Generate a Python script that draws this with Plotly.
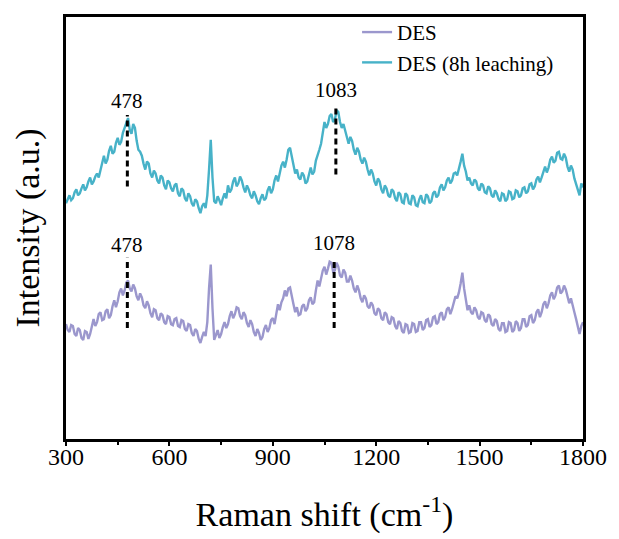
import plotly.graph_objects as go

# Raman shift sample positions (cm^-1)
raman_shift = list(range(300, 1801, 5))

# DES (8h leaching) - upper (offset) spectrum, a.u.
des_leach = [
    236, 241, 244, 239, 241, 247, 250, 244, 246, 251,
    255, 249, 252, 258, 262, 255, 258, 263, 266, 262,
    270, 277, 284, 276, 280, 289, 294, 286, 288, 297,
    302, 295, 298, 307, 312, 318, 322, 310, 306, 316,
    312, 299, 290, 288, 284, 276, 270, 278, 276, 266,
    262, 269, 266, 259, 256, 264, 262, 254, 250, 259,
    257, 251, 248, 254, 256, 246, 243, 251, 249, 241,
    238, 246, 243, 236, 233, 240, 238, 231, 226, 233,
    236, 231, 244, 270, 300, 262, 238, 236, 243, 239,
    234, 241, 246, 241, 254, 247, 250, 258, 262, 253,
    256, 263, 259, 252, 247, 254, 250, 244, 241, 248,
    244, 238, 235, 241, 245, 239, 241, 249, 253, 246,
    250, 259, 264, 258, 266, 274, 278, 272, 280, 290,
    292, 282, 274, 266, 270, 262, 260, 267, 264, 256,
    258, 266, 272, 265, 268, 279, 286, 290, 296, 308,
    318, 312, 316, 324, 326, 318, 320, 330, 328, 318,
    312, 316, 310, 302, 296, 303, 299, 290, 285, 292,
    288, 280, 276, 282, 278, 270, 264, 270, 266, 258,
    254, 261, 258, 250, 246, 254, 251, 244, 242, 250,
    248, 241, 238, 247, 245, 237, 236, 246, 244, 236,
    235, 244, 242, 234, 233, 240, 244, 237, 236, 245,
    243, 236, 238, 246, 248, 242, 244, 252, 255, 249,
    252, 259, 262, 256, 259, 266, 267, 264, 270, 278,
    286, 274, 268, 259, 262, 256, 254, 260, 258, 251,
    249, 256, 254, 247, 246, 253, 251, 244, 242, 249,
    246, 240, 238, 246, 245, 238, 240, 248, 247, 240,
    241, 249, 248, 242, 244, 251, 252, 246, 248, 255,
    256, 250, 253, 260, 263, 257, 262, 269, 273, 267,
    272, 280, 283, 277, 279, 287, 288, 281, 280, 286,
    282, 273, 268, 274, 270, 261, 256, 250, 244, 256,
    252,
]

# DES - lower spectrum, a.u.
des = [
    114, 108, 106, 113, 112, 104, 102, 110, 108, 100,
    98, 107, 106, 99, 104, 112, 119, 112, 116, 124,
    126, 118, 119, 127, 129, 120, 123, 132, 138, 131,
    137, 146, 150, 143, 148, 156, 158, 150, 147, 154,
    150, 142, 138, 145, 141, 133, 130, 137, 133, 125,
    121, 129, 128, 120, 118, 125, 123, 116, 114, 122,
    121, 114, 113, 119, 120, 112, 111, 118, 117, 109,
    107, 114, 113, 105, 102, 109, 107, 99, 95, 101,
    106, 102, 116, 150, 174, 130, 98, 103, 108, 100,
    104, 111, 116, 110, 114, 122, 127, 120, 124, 131,
    130, 122, 119, 126, 123, 115, 111, 118, 114, 106,
    102, 109, 105, 98, 101, 109, 113, 106, 110, 118,
    120, 114, 126, 134, 128, 136, 140, 148, 142, 150,
    151, 141, 134, 126, 131, 123, 124, 132, 134, 127,
    130, 138, 141, 134, 136, 148, 158, 152, 160, 168,
    172, 164, 170, 177, 176, 167, 168, 176, 172, 163,
    161, 169, 166, 157, 157, 163, 158, 150, 146, 153,
    148, 140, 136, 143, 140, 132, 130, 136, 133, 125,
    123, 130, 128, 120, 118, 126, 124, 116, 114, 121,
    120, 112, 109, 117, 115, 107, 105, 114, 113, 105,
    106, 115, 114, 106, 107, 116, 116, 108, 110, 118,
    119, 111, 113, 121, 122, 114, 116, 124, 126, 118,
    121, 129, 131, 124, 129, 137, 142, 140, 146, 155,
    166, 150, 138, 128, 133, 126, 124, 131, 128, 121,
    119, 126, 125, 118, 116, 124, 122, 114, 112, 119,
    117, 109, 107, 115, 115, 106, 107, 116, 115, 106,
    108, 117, 115, 107, 110, 119, 119, 111, 113, 122,
    123, 115, 118, 126, 129, 121, 126, 134, 137, 130,
    135, 143, 146, 139, 143, 151, 153, 145, 147, 153,
    149, 140, 135, 140, 134, 126, 119, 110, 104, 112,
    116,
]

series_names = ["DES", "DES (8h leaching)"]
series_colors = ["#9b97cd", "#47b2c8"]

# Peak markers
peak_pos = [478, 1083, 478, 1078]
peak_text = ["478", "1083", "478", "1078"]
peak_y0 = [253, 265, 110, 110]
peak_y1 = [325, 335, 181, 180]
peak_label_y = [339, 350, 194, 196]

FONT = "Liberation Serif, Times New Roman, DejaVu Serif, serif"

fig = go.Figure()
fig.add_trace(go.Scatter(x=raman_shift, y=des, mode="lines", name=series_names[0],
                         line=dict(color=series_colors[0], width=2.4)))
fig.add_trace(go.Scatter(x=raman_shift, y=des_leach, mode="lines", name=series_names[1],
                         line=dict(color=series_colors[1], width=2.4)))

for p, t, a, b, ly in zip(peak_pos, peak_text, peak_y0, peak_y1, peak_label_y):
    fig.add_shape(type="line", x0=p, x1=p, y0=a, y1=b, xref="x", yref="y",
                  line=dict(color="black", width=3, dash="6px,4px"))
    fig.add_annotation(x=p, y=ly, text=t, showarrow=False, xref="x", yref="y",
                       font=dict(family=FONT, size=21, color="black"))

fig.update_layout(
    width=619, height=539,
    margin=dict(l=66, r=32, t=14, b=99),
    paper_bgcolor="white", plot_bgcolor="white",
    font=dict(family=FONT, color="black"),
    showlegend=True,
    legend=dict(x=0.563, y=1.012, xanchor="left", yanchor="top",
                bgcolor="rgba(0,0,0,0)", borderwidth=0,
                font=dict(family=FONT, size=21, color="black"),
                tracegroupgap=0),
    xaxis=dict(range=[300, 1800], tickvals=[300, 600, 900, 1200, 1500, 1800],
               ticks="outside", ticklen=4, tickwidth=2, tickcolor="black",
               ticklabelstandoff=-10,
               minor=dict(tickvals=[450, 750, 1050, 1350, 1650], ticks="outside",
                          ticklen=3, tickwidth=2, tickcolor="black"),
               showline=True, linecolor="black", linewidth=2.5, mirror=True,
               showgrid=False, zeroline=False,
               tickfont=dict(family=FONT, size=24, color="black"),
               title=dict(text="Raman shift (cm<sup>-1</sup>)", standoff=34,
                          font=dict(family=FONT, size=34, color="black"))),
    yaxis=dict(range=[-2, 424], showticklabels=False, ticks="",
               showline=True, linecolor="black", linewidth=2.5, mirror=True,
               showgrid=False, zeroline=False,
               title=dict(text="Intensity (a.u.)", standoff=14,
                          font=dict(family=FONT, size=34, color="black"))),
)

fig.write_html("out.html")
